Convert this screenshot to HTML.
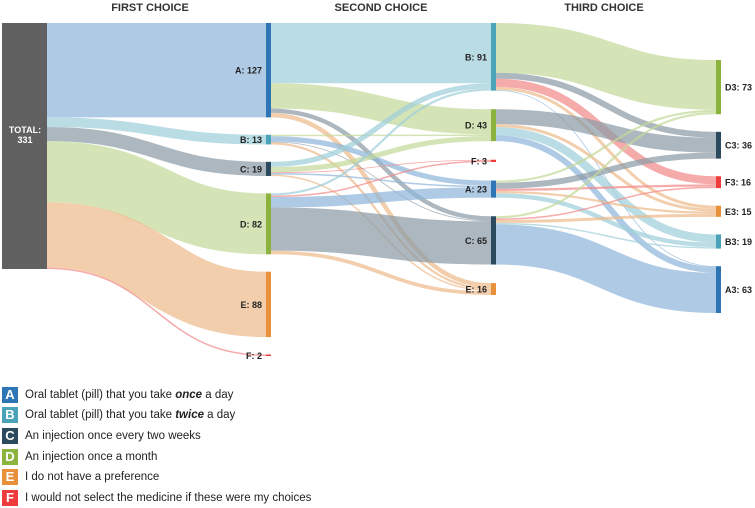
<!DOCTYPE html>
<html><head><meta charset="utf-8"><style>
body{margin:0;background:#fff;width:755px;height:508px;overflow:hidden;font-family:"Liberation Sans",Arial,sans-serif}
svg text{font-family:"Liberation Sans",Arial,sans-serif}
.lg{position:absolute;left:2px;height:16px;display:flex;align-items:center;font-size:11.5px;color:#222}
.lg b.sq{display:inline-block;width:16px;height:16px;color:#fff;font-size:13px;text-align:center;line-height:16px;margin-right:7px}
</style></head><body>
<svg id="chart" width="755" height="380" style="position:absolute;left:0;top:0"></svg>
<div>
<div class="lg" style="top:387px"><b class="sq" style="background:#2e75b6">A</b>Oral tablet (pill) that you take&nbsp;<b><i>once</i></b>&nbsp;a day</div>
<div class="lg" style="top:407px"><b class="sq" style="background:#4aa3b8">B</b>Oral tablet (pill) that you take&nbsp;<b><i>twice</i></b>&nbsp;a day</div>
<div class="lg" style="top:428px"><b class="sq" style="background:#2c4a5e">C</b>An injection once every two weeks</div>
<div class="lg" style="top:449px"><b class="sq" style="background:#8db33f">D</b>An injection once a month</div>
<div class="lg" style="top:469px"><b class="sq" style="background:#e8913a">E</b>I do not have a preference</div>
<div class="lg" style="top:490px"><b class="sq" style="background:#ee3b3b">F</b>I would not select the medicine if these were my choices</div>
</div>
<script>
const colNodes1 = ["A","B","C","D","E","F"];
const colNodes2 = ["B","D","F","A","C","E"];
const colNodes3 = ["D3","C3","F3","E3","B3","A3"];
const totalValue = 331;
// total -> first choice
const flows0 = [["A",127],["B",13],["C",19],["D",82],["E",88],["F",2]];
// first -> second [source, target, value]
const flows1 = [
 ["A","B",81],["A","D",34],["A","C",6],["A","E",6],
 ["B","D",2],["B","A",7],["B","C",1],["B","E",3],
 ["C","B",7],["C","D",7],["C","F",1],["C","A",2],["C","E",2],
 ["D","B",3],["D","F",2],["D","A",14],["D","C",58],["D","E",5]
];
// second -> third
const flows2 = [
 ["B","D3",67],["B","C3",8],["B","F3",11],["B","E3",4],["B","A3",1],
 ["D","C3",20],["D","E3",4],["D","B3",11],["D","A3",8],
 ["A","D3",3],["A","C3",8],["A","F3",3],["A","E3",3],["A","B3",6],
 ["C","D3",3],["C","F3",2],["C","E3",4],["C","B3",2],["C","A3",54]
];
const nodeColor={A:"#2e75b6",B:"#4aa3b8",C:"#2c4a5e",D:"#8db33f",E:"#e8913a",F:"#ee3b3b"};
const linkColor={A:"#8fb5da",B:"#9fcfd9",C:"#8c9ba6",D:"#c3d99a",E:"#efbb8c",F:"#f28a8a"};
const svg=document.getElementById('chart');
const NS="http://www.w3.org/2000/svg";
const k=246/totalValue;
function mk(tag,attrs){const e=document.createElementNS(NS,tag);for(const a in attrs)e.setAttribute(a,attrs[a]);svg.appendChild(e);return e;}
function layout(names,flowsIn,top,bottom,x){
  const vals=names.map(n=>flowsIn.filter(f=>f[1]===n).reduce((s,f)=>s+f[f.length-1],0));
  const sum=vals.reduce((a,b)=>a+b,0);
  const gap=(bottom-top-sum*k)/(names.length-1);
  const res={};let y=top;
  names.forEach((n,i)=>{res[n]={y:y,h:vals[i]*k,v:vals[i],x:x,inY:y};y+=vals[i]*k+gap;});
  return res;
}
const c1=layout(colNodes1,flows0.map(f=>["T",f[0],f[1]]),23,356,266);
const c2=layout(colNodes2,flows1,23,295,491);
const c3=layout(colNodes3,flows2,60,313,716);
function link(x0,y0,x1,y1,w,col,name){
  const xm=(x0+x1)/2;
  const p=mk('path',{d:`M${x0},${y0}C${xm},${y0} ${xm},${y1} ${x1},${y1}`,fill:'none',stroke:col,'stroke-width':Math.max(w,0.8),'stroke-opacity':0.72});
  
  
}
[["FIRST CHOICE",150],["SECOND CHOICE",381],["THIRD CHOICE",604]].forEach(h=>{
  const t=mk('text',{x:h[1],y:11,'text-anchor':'middle','font-size':11,'font-weight':'bold',fill:'#333'});t.textContent=h[0];
  
  
});
let ty=23;
flows0.forEach(f=>{const w=f[1]*k;const n=c1[f[0]];link(47,ty+w/2,266,n.inY+w/2,w,linkColor[f[0]],'link-total-'+f[0]);ty+=w;});
function drawFlows(flows,src,tgt,x0,x1){
  const order=Object.keys(tgt);
  const srcOrder=Object.keys(src);
  const outPos={};
  srcOrder.forEach(s=>{let y=src[s].y;flows.filter(f=>f[0]===s).sort((a,b)=>order.indexOf(a[1])-order.indexOf(b[1])).forEach(f=>{outPos[f[0]+'>'+f[1]]=y;y+=f[2]*k;});});
  const inPos={};
  order.forEach(t=>{let y=tgt[t].y;flows.filter(f=>f[1]===t).sort((a,b)=>srcOrder.indexOf(a[0])-srcOrder.indexOf(b[0])).forEach(f=>{inPos[f[0]+'>'+f[1]]=y;y+=f[2]*k;});});
  flows.forEach(f=>{const w=f[2]*k;const key=f[0]+'>'+f[1];link(x0,outPos[key]+w/2,x1,inPos[key]+w/2,w,linkColor[f[1][0]],'link-'+f[0]+'-'+f[1]);});
}
drawFlows(flows1,c1,c2,271,491);
drawFlows(flows2,c2,c3,496,716);
const tn=mk('rect',{x:2,y:23,width:45,height:totalValue*k,fill:'#616161'});


const t1=mk('text',{x:25,y:133,'text-anchor':'middle','font-size':9,'font-weight':'bold',fill:'#fff'});t1.textContent='TOTAL:';


const t2=mk('text',{x:25,y:143,'text-anchor':'middle','font-size':9,'font-weight':'bold',fill:'#fff'});t2.textContent=String(totalValue);


function drawNodes(col,labelLeft){
  Object.keys(col).forEach(n=>{const d=col[n];
    const r=mk('rect',{x:d.x,y:d.y,width:5,height:Math.max(d.h,1.5),fill:nodeColor[n[0]]});
    
    
    const t=mk('text',{x:labelLeft?d.x-4:d.x+9,y:d.y+Math.max(d.h,1.5)/2+3.5,'text-anchor':labelLeft?'end':'start','font-size':9,'font-weight':'bold',fill:'#222'});
    t.textContent=n+': '+d.v;
    
    
  });
}
drawNodes(c1,true);drawNodes(c2,true);drawNodes(c3,false);
</script>
</body></html>
